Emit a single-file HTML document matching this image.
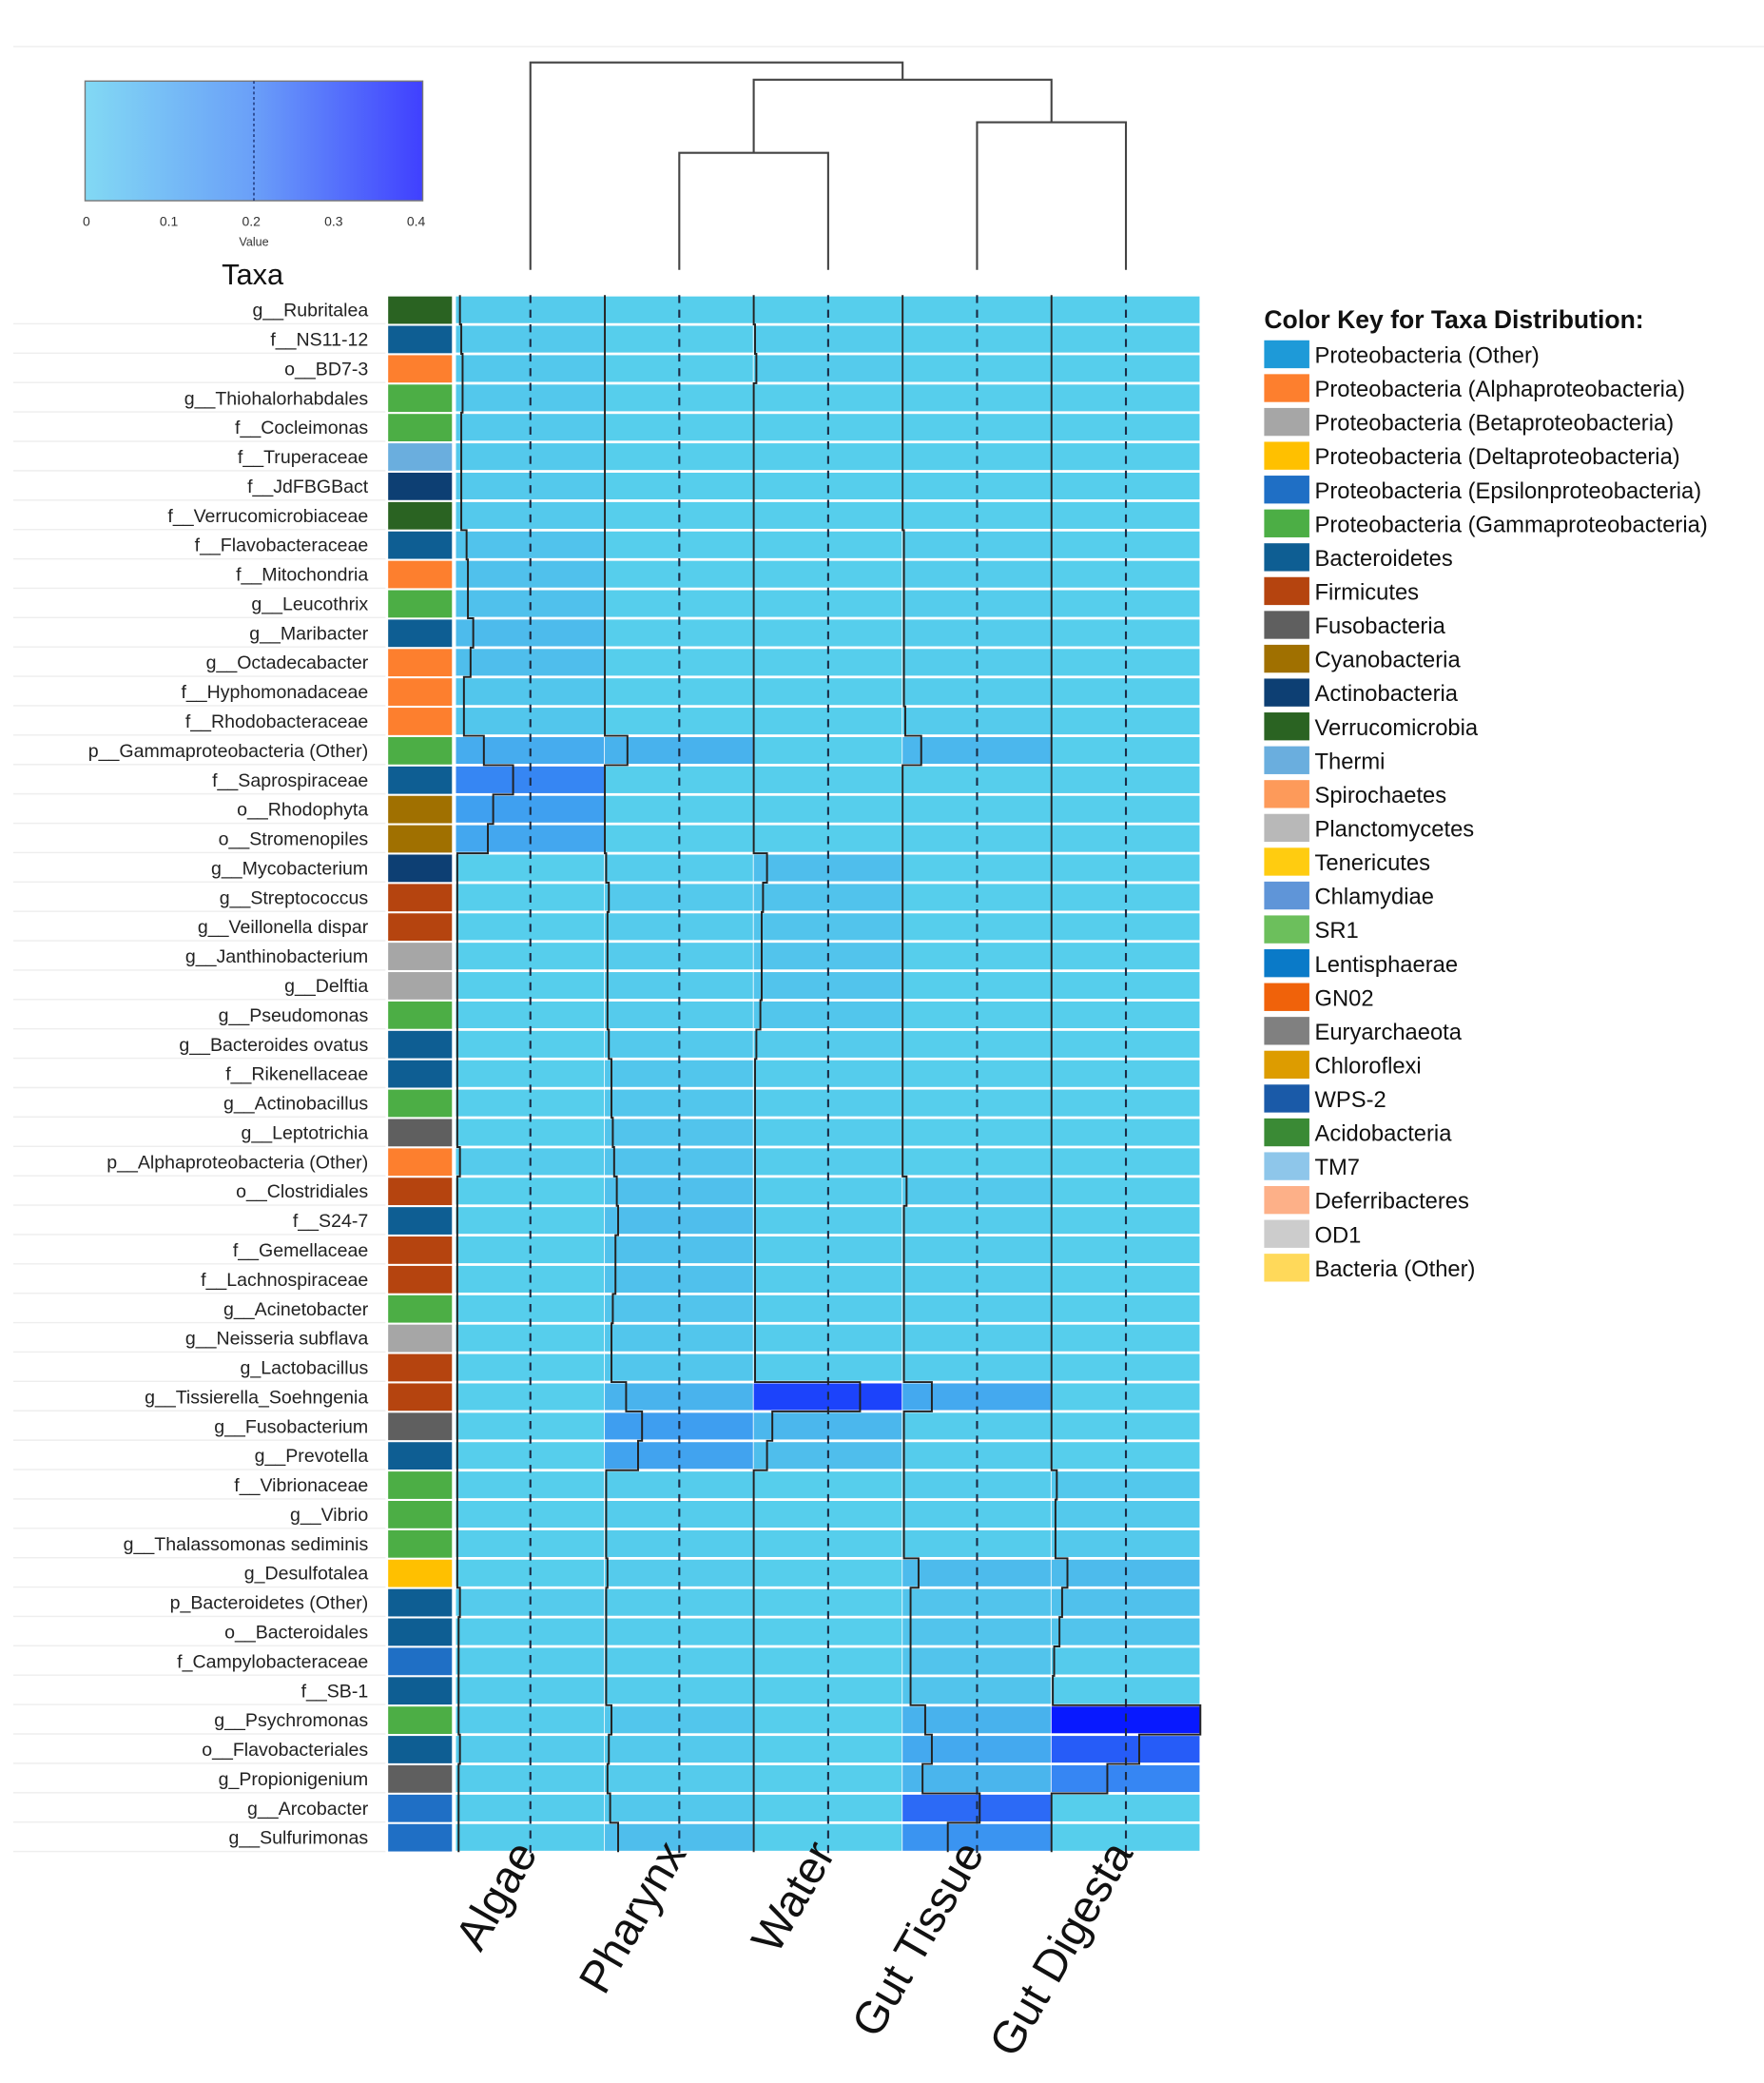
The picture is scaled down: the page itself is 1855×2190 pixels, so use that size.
<!DOCTYPE html>
<html><head><meta charset="utf-8"><style>
html,body{margin:0;padding:0;background:#fff;}
svg{display:block;}
text{font-family:"Liberation Sans",sans-serif;}
</style></head><body>
<svg id="s" width="1855" height="2190" viewBox="0 0 1327 1567" preserveAspectRatio="none" xmlns="http://www.w3.org/2000/svg">
<defs><linearGradient id="g" x1="0" x2="1" y1="0" y2="0">
<stop offset="0" stop-color="#82d9f4"/><stop offset="0.5" stop-color="#6a9ff8"/><stop offset="1" stop-color="#4040ff"/></linearGradient></defs>
<line x1="10" y1="35" x2="1330" y2="35" stroke="#eee" stroke-width="1"/>
<rect x="64" y="61" width="254" height="90" fill="url(#g)" stroke="#777" stroke-width="1"/>
<line x1="191" y1="61" x2="191" y2="151" stroke="#1a3070" stroke-dasharray="2,2" stroke-width="1"/>
<g font-size="10" fill="#333" text-anchor="middle">
<text x="65" y="170">0</text><text x="127" y="170">0.1</text><text x="189" y="170">0.2</text><text x="251" y="170">0.3</text><text x="313" y="170">0.4</text>
<text x="191" y="185" font-size="9">Value</text></g>
<text x="190" y="214" font-size="22" text-anchor="middle" fill="#111">Taxa</text>
<g stroke="#444" stroke-width="1.5" fill="none">
<path d="M511 203V115H623V203"/><path d="M735 203V92H847V203"/>
<path d="M567 115V60H791V92"/><path d="M399 203V47H679V60"/>
</g>
<g id="rows"></g>
<g id="leg"></g>
<text x="951" y="247" font-size="19" font-weight="bold" fill="#111">Color Key for Taxa Distribution:</text>
<g font-size="34" fill="#111" text-anchor="end">
<text transform="translate(405,1394) rotate(-60)">Algae</text>
<text transform="translate(517,1394) rotate(-60)">Pharynx</text>
<text transform="translate(629,1394) rotate(-60)">Water</text>
<text transform="translate(741,1394) rotate(-60)">Gut Tissue</text>
<text transform="translate(853,1394) rotate(-60)">Gut Digesta</text>
</g>
</svg>
<script>
(function(){
const V="#2a6322",BL="#0e5e93",OR="#fd7f2e",GR="#4cae45",TH="#6aaede",AC="#0d3f73",FI="#b5440f",CY="#a07000",GY="#a6a6a6",FU="#5f5f5f",EP="#1f6fc5",DE="#ffc000";
const rows=[
["g__Rubritalea",V,[2,0,0,0,0]],["f__NS11-12",BL,[3,0,1,0,0]],["o__BD7-3",OR,[4,0,2,0,0]],
["g__Thiohalorhabdales",GR,[4,0,0,0,0]],["f__Cocleimonas",GR,[3,0,0,0,0]],["f__Truperaceae",TH,[3,0,0,0,0]],
["f__JdFBGBact",AC,[3,0,0,0,0]],["f__Verrucomicrobiaceae",V,[3,0,0,0,0]],["f__Flavobacteraceae",BL,[7,0,0,1,0]],
["f__Mitochondria",OR,[8,0,0,1,0]],["g__Leucothrix",GR,[8,0,0,1,0]],["g__Maribacter",BL,[12,0,0,1,0]],
["g__Octadecabacter",OR,[10,0,0,1,0]],["f__Hyphomonadaceae",OR,[5,0,0,1,0]],["f__Rhodobacteraceae",OR,[5,0,0,2,0]],
["p__Gammaproteobacteria (Other)",GR,[20,17,0,14,0]],["f__Saprospiraceae",BL,[42,0,0,0,0]],["o__Rhodophyta",CY,[27,0,0,0,0]],
["o__Stromenopiles",CY,[23,0,0,0,0]],["g__Mycobacterium",AC,[0,1,10,0,0]],["g__Streptococcus",FI,[0,3,7,0,0]],
["g__Veillonella dispar",FI,[0,2,6,0,0]],["g__Janthinobacterium",GY,[0,2,6,0,0]],["g__Delftia",GY,[0,2,6,0,0]],
["g__Pseudomonas",GR,[0,2,5,0,0]],["g__Bacteroides ovatus",BL,[0,3,2,0,0]],["f__Rikenellaceae",BL,[0,5,1,0,0]],
["g__Actinobacillus",GR,[0,5,1,0,0]],["g__Leptotrichia",FU,[0,6,1,0,0]],["p__Alphaproteobacteria (Other)",OR,[2,7,1,0,0]],
["o__Clostridiales",FI,[0,9,1,3,0]],["f__S24-7",BL,[0,10,1,1,0]],["f__Gemellaceae",FI,[0,8,1,1,0]],
["f__Lachnospiraceae",FI,[0,8,1,1,0]],["g__Acinetobacter",GR,[0,6,1,1,0]],["g__Neisseria subflava",GY,[0,5,1,1,0]],
["g_Lactobacillus",FI,[0,5,1,1,0]],["g__Tissierella_Soehngenia",FI,[0,16,80,22,0]],["g__Fusobacterium",FU,[0,28,14,1,0]],
["g__Prevotella",BL,[0,25,10,1,0]],["f__Vibrionaceae",GR,[0,1,0,1,4]],["g__Vibrio",GR,[0,1,0,1,3]],
["g__Thalassomonas sediminis",GR,[0,1,0,1,3]],["g_Desulfotalea",DE,[0,2,0,12,12]],["p_Bacteroidetes (Other)",BL,[2,1,0,6,8]],
["o__Bacteroidales",BL,[1,1,0,6,6]],["f_Campylobacteraceae",EP,[1,1,0,6,2]],["f__SB-1",BL,[1,1,0,6,1]],
["g__Psychromonas",GR,[1,5,0,17,112]],["o__Flavobacteriales",BL,[2,3,0,22,66]],["g_Propionigenium",FU,[1,2,0,15,42]],
["g__Arcobacter",EP,[1,4,0,58,0]],["g__Sulfurimonas",EP,[1,10,0,34,0]]];
const stops=[[0,[86,206,236]],[0.04,[78,188,236]],[0.1,[62,158,240]],[0.2,[45,110,245]],[0.3,[25,60,252]],[0.4,[8,25,255]]];
function col(v){if(v>=0.4)return "rgb(8,25,255)";for(let i=0;i<stops.length-1;i++){const a=stops[i][0],ca=stops[i][1],b=stops[i+1][0],cb=stops[i+1][1];if(v<=b){const t=(v-a)/(b-a);return "rgb("+ca.map((c,j)=>Math.round(c+(cb[j]-c)*t)).join(",")+")";}}return "rgb(8,25,255)";}
let h="";
const y0=222,p=22.1,x0=343,cw=112;
rows.forEach((r,i)=>{const y=y0+i*p;
h+=`<line x1="10" y1="${y+p-0.5}" x2="290" y2="${y+p-0.5}" stroke="#eee" stroke-width="1"/>`;
h+=`<text x="277" y="${y+16}" font-size="14" text-anchor="end" fill="#222">${r[0]}</text>`;
h+=`<rect x="292" y="${y+1}" width="48" height="${p-1.5}" fill="${r[1]}"/>`;
r[2].forEach((o,c)=>{h+=`<rect x="${x0+c*cw}" y="${y+1}" width="${cw-0.6}" height="${p-2}" fill="${col(o/280)}"/>`;});
});
for(let c=0;c<5;c++){const cx=x0+c*cw+56;h+=`<line x1="${cx}" y1="${y0}" x2="${cx}" y2="${y0+53*p+5}" stroke="#1b2b44" stroke-width="1.5" stroke-dasharray="6,5"/>`;
let d="";rows.forEach((r,i)=>{const x=x0+c*cw+r[2][c]+(c==0?1:0),y=y0+i*p;d+=(i==0?("M"+x+" "+y):("H"+x))+"V"+(y+p);});
h+=`<path d="${d}" fill="none" stroke="#222" stroke-width="1.4"/>`;}
document.getElementById("rows").innerHTML=h;
const leg=[["Proteobacteria (Other)","#1e9ad8"],["Proteobacteria (Alphaproteobacteria)","#fd7f2e"],["Proteobacteria (Betaproteobacteria)","#a6a6a6"],["Proteobacteria (Deltaproteobacteria)","#ffc000"],["Proteobacteria (Epsilonproteobacteria)","#1f6fc5"],["Proteobacteria (Gammaproteobacteria)","#4cae45"],["Bacteroidetes","#0e5e93"],["Firmicutes","#b5440f"],["Fusobacteria","#5f5f5f"],["Cyanobacteria","#a07000"],["Actinobacteria","#0d3f73"],["Verrucomicrobia","#2a6322"],["Thermi","#6aaede"],["Spirochaetes","#fd9a5a"],["Planctomycetes","#b8b8b8"],["Tenericutes","#ffcc10"],["Chlamydiae","#5f95d8"],["SR1","#6cbf5c"],["Lentisphaerae","#0a7ac8"],["GN02","#f0620a"],["Euryarchaeota","#808080"],["Chloroflexi","#dd9c00"],["WPS-2","#1a5aa8"],["Acidobacteria","#3a8a35"],["TM7","#8ec6ea"],["Deferribacteres","#fdb088"],["OD1","#cccccc"],["Bacteria (Other)","#ffd95a"]];
let g="";leg.forEach((l,i)=>{const y=256+i*25.45;g+=`<rect x="951" y="${y}" width="34" height="21" fill="${l[1]}"/><text x="989" y="${y+17}" font-size="17" fill="#111">${l[0]}</text>`;});
document.getElementById("leg").innerHTML=g;
})();
</script>
</body></html>
